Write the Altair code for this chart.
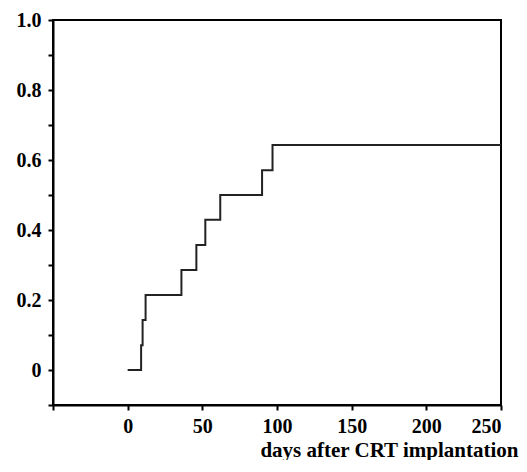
import altair as alt
import pandas as pd

days = [0, 9, 10, 12, 36, 46, 52, 62, 90, 97, 250]
values = [0.0, 0.071, 0.143, 0.214, 0.286, 0.357, 0.429, 0.5, 0.571, 0.643, 0.643]
x_ticks = [-50, 0, 50, 100, 150, 200, 250]
y_ticks = [-0.1, 0.0, 0.1, 0.2, 0.3, 0.4, 0.5, 0.6, 0.7, 0.8, 0.9, 1.0]
x_title = "days after CRT implantation"

df = pd.DataFrame({"day": days, "value": values})

font = "Liberation Serif"

chart = alt.Chart(df).mark_line(
    interpolate="step-after", color="#222222", strokeWidth=2
).encode(
    x=alt.X(
        "day:Q",
        scale=alt.Scale(domain=[-50, 250], nice=False, zero=False),
        axis=alt.Axis(
            values=x_ticks,
            labelExpr="datum.value < 0 ? '' : format(datum.value, 'd')",
            labelPadding=6,
            title=x_title,
            titleX=465,
            titleY=51,
            titleAlign="right",
            titleBaseline="alphabetic",
            titleFontSize=21,
            grid=False,
        ),
    ),
    y=alt.Y(
        "value:Q",
        scale=alt.Scale(domain=[-0.1, 1.0], nice=False, zero=False),
        axis=alt.Axis(
            values=y_ticks,
            labelExpr="(datum.value >= -0.001 && round(datum.value*10) % 2 == 0) ? (abs(datum.value) < 0.001 ? '0' : format(datum.value, '.1f')) : ''",
            labelPadding=7,
            title=None,
            grid=False,
        ),
    ),
).properties(
    width=448,
    height=385,
    autosize=alt.AutoSizeParams(type="none"),
    padding={"left": 45, "top": 12, "right": 18, "bottom": 55},
).configure_view(
    stroke="black", strokeWidth=2
).configure_axis(
    domainColor="black",
    domainWidth=2,
    tickColor="black",
    tickWidth=2,
    tickSize=5,
    labelFont=font,
    labelFontSize=20,
    labelFontWeight="bold",
    labelColor="black",
    titleFont=font,
    titleFontWeight="bold",
    titleColor="black",
)

chart.save("out.html", embed_options={"renderer": "svg", "actions": False})
